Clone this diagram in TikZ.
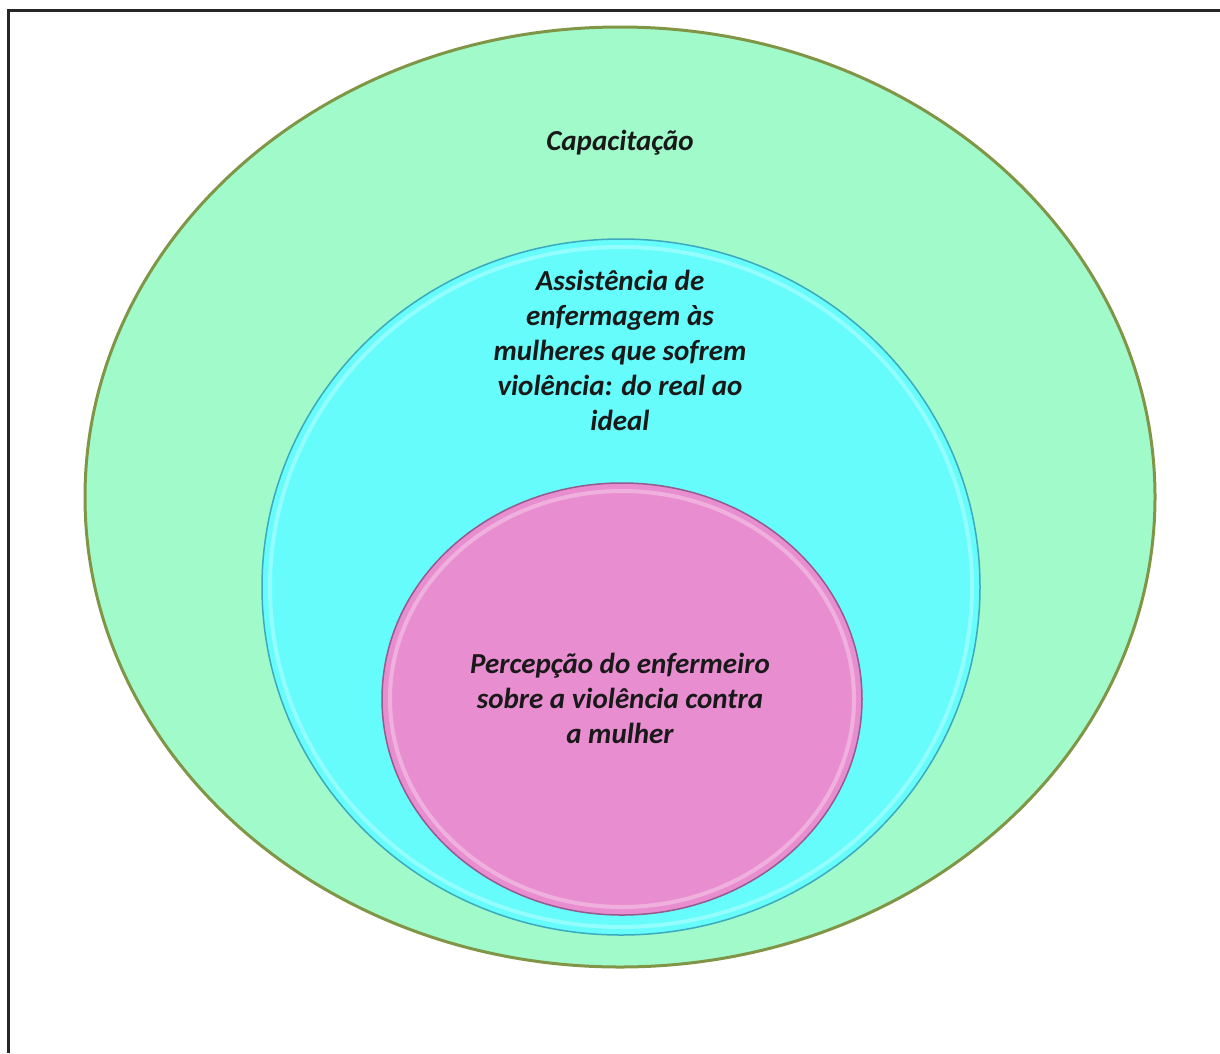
\documentclass[tikz,border=0pt]{standalone}
\usepackage{fontspec}
\setmainfont{Carlito}
\usetikzlibrary{positioning}
\definecolor{greenfill}{RGB}{160,250,202}
\definecolor{greenline}{RGB}{128,150,70}
\definecolor{cyanfill}{RGB}{102,252,252}
\definecolor{cyanline}{RGB}{60,170,190}
\definecolor{pinkfill}{RGB}{232,142,208}
\definecolor{pinkline}{RGB}{150,90,140}
\tikzset{label/.style = {font=\fontsize{29}{35}\selectfont\bfseries\itshape, align=center, text=black!90}}

\begin{document}
\begin{tikzpicture}[x=1pt, y=-1pt]
  \useasboundingbox (0, 0) rectangle (1220, 1053);
  \draw [line width=3, black!85] (8, 1053) -- (8, 10) -- (1220, 10);

  % outer ring
  \draw [fill=greenfill, draw=greenline, line width=3] (620, 497) ellipse [x radius=535, y radius=470];
  \node [label] (capacitacao) at (620, 143) {Capacitação};

  % middle ring
  \draw [fill=cyanfill, draw=cyanline, line width=1.5] (621, 587) ellipse [x radius=359, y radius=348];
  \draw [white!30!cyanfill, line width=4] (621, 587) ellipse [x radius=351, y radius=340];
  \node [label] (assistencia) at (620, 350) {Assistência de\\enfermagem às\\mulheres que sofrem\\violência: do real ao\\ideal};

  % inner ring
  \draw [fill=pinkfill, draw=pinkline, line width=1.5] (622, 699) ellipse [x radius=240, y radius=216];
  \draw [white!30!pinkfill, line width=4] (622, 699) ellipse [x radius=232, y radius=208];
  \node [label] (percepcao) at (620, 698) {Percepção do enfermeiro\\sobre a violência contra\\a mulher};
\end{tikzpicture}
\end{document}
